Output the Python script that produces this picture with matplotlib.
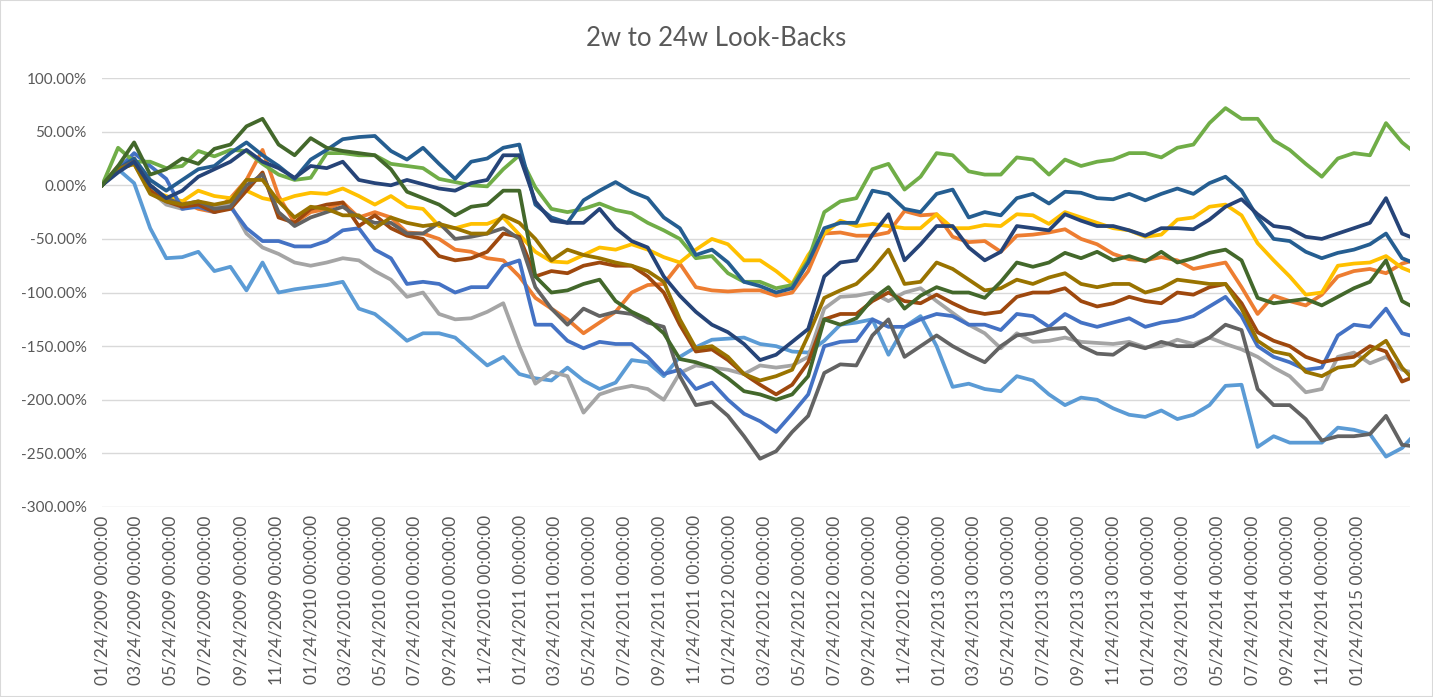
import pandas as pd
import matplotlib
matplotlib.use("Agg")
import matplotlib.pyplot as plt
import matplotlib.dates as mdates
from matplotlib.patches import Rectangle
from matplotlib.ticker import FuncFormatter, MultipleLocator, FixedLocator

plt.rcParams['font.family'] = ['Lato', 'DejaVu Sans']

# sampled every 4 weeks, plus the last weekly point
dates = list(pd.date_range("2009-01-24", periods=82, freq="28D")) + [pd.Timestamp("2015-04-25")]
tick_dates = pd.date_range("2009-01-24", "2015-01-24", freq=pd.DateOffset(months=2))

lb_2w = [0, 15, 2, -40, -68, -67, -62, -80, -76, -98,
         -72, -100, -97, -95, -93, -90, -115, -120, -132, -145,
         -138, -138, -142, -155, -168, -160, -176, -180, -182, -170,
         -182, -190, -184, -163, -165, -178, -160, -151, -144, -143,
         -142, -148, -150, -155, -156, -145, -130, -128, -125, -158,
         -132, -122, -150, -188, -185, -190, -192, -178, -182, -195,
         -205, -198, -200, -208, -214, -216, -210, -218, -214, -205,
         -187, -186, -244, -234, -240, -240, -240, -226, -228, -232,
         -253, -245, -237]
lb_4w = [0, 18, 25, -5, -12, -15, -22, -25, -12, 5,
         33, -10, -35, -25, -22, -16, -30, -25, -30, -44,
         -45, -50, -60, -62, -68, -70, -85, -105, -115, -125,
         -138, -128, -118, -100, -93, -92, -73, -95, -98, -99,
         -98, -98, -103, -100, -80, -45, -44, -47, -47, -44,
         -24, -28, -27, -48, -53, -52, -62, -47, -46, -44,
         -41, -50, -55, -64, -69, -70, -67, -70, -78, -75,
         -72, -95, -120, -103, -108, -112, -102, -85, -80, -78,
         -82, -73, -71]
lb_6w = [0, 15, 20, -5, -18, -22, -18, -20, -18, -45,
         -58, -64, -72, -75, -72, -68, -70, -80, -88, -104,
         -100, -120, -125, -124, -118, -110, -150, -185, -174, -178,
         -212, -195, -190, -187, -190, -200, -175, -168, -170, -172,
         -176, -168, -170, -168, -160, -115, -104, -103, -100, -108,
         -100, -96, -108, -119, -130, -138, -152, -138, -146, -145,
         -142, -146, -147, -148, -146, -151, -150, -144, -148, -142,
         -148, -153, -160, -170, -178, -193, -190, -160, -156, -166,
         -160, -172, -174]
lb_8w = [0, 15, 20, -5, -10, -15, -5, -10, -12, -5,
         -12, -15, -10, -7, -8, -3, -10, -18, -10, -20,
         -22, -38, -40, -36, -36, -30, -46, -62, -71, -72,
         -65, -58, -60, -55, -60, -67, -72, -60, -50, -55,
         -70, -70, -80, -92, -65, -45, -33, -38, -36, -38,
         -40, -40, -27, -40, -40, -37, -38, -27, -28, -36,
         -25, -30, -35, -40, -42, -48, -46, -32, -30, -20,
         -18, -28, -54, -70, -85, -102, -100, -75, -73, -72,
         -66, -77, -80]
lb_10w = [0, 15, 30, 18, 6, -22, -20, -25, -20, -40,
          -52, -52, -57, -57, -52, -42, -40, -60, -68, -92,
          -90, -92, -100, -95, -95, -75, -70, -130, -130, -145,
          -152, -146, -148, -148, -160, -176, -172, -190, -184, -200,
          -213, -220, -230, -213, -195, -150, -146, -145, -125, -132,
          -132, -125, -120, -122, -130, -130, -135, -120, -122, -132,
          -120, -128, -132, -128, -124, -132, -128, -126, -122, -113,
          -104, -122, -150, -160, -165, -172, -170, -140, -130, -132,
          -115, -138, -140]
lb_12w = [0, 35, 22, 22, 16, 18, 32, 27, 33, 32,
          20, 10, 5, 7, 30, 30, 28, 28, 20, 18,
          16, 6, 3, 0, -1, 15, 28, -2, -22, -25,
          -22, -17, -23, -26, -35, -42, -50, -68, -66, -82,
          -90, -90, -96, -93, -70, -25, -15, -12, 15, 20,
          -4, 8, 30, 28, 13, 10, 10, 26, 24, 10,
          24, 18, 22, 24, 30, 30, 26, 35, 38, 58,
          72, 62, 62, 42, 33, 20, 8, 25, 30, 28,
          58, 40, 34]
lb_14w = [0, 15, 25, 5, -5, 5, 15, 18, 30, 40,
          28, 18, 6, 24, 33, 43, 45, 46, 32, 24,
          35, 20, 6, 22, 25, 35, 38, -18, -30, -35,
          -14, -5, 3, -6, -12, -30, -40, -65, -60, -72,
          -90, -94, -100, -96, -72, -40, -35, -35, -5, -8,
          -22, -25, -8, -4, -30, -25, -28, -12, -8, -17,
          -6, -7, -12, -13, -8, -14, -8, -3, -8, 2,
          8, -5, -30, -50, -52, -62, -68, -63, -60, -55,
          -45, -68, -71]
lb_16w = [0, 15, 22, -5, -15, -20, -18, -25, -22, -5,
          12, -30, -35, -22, -18, -16, -38, -28, -40, -47,
          -50, -66, -70, -68, -62, -45, -48, -85, -80, -82,
          -75, -72, -75, -75, -85, -100, -130, -155, -153, -163,
          -176, -186, -195, -186, -165, -125, -120, -120, -108, -100,
          -108, -110, -102, -110, -117, -120, -118, -104, -100, -100,
          -96, -108, -113, -110, -104, -108, -110, -100, -102, -95,
          -92, -110, -137, -145, -150, -160, -165, -162, -160, -150,
          -155, -183, -180]
lb_18w = [0, 15, 22, 0, -12, -18, -15, -22, -20, 0,
          10, -25, -38, -30, -25, -20, -30, -35, -35, -45,
          -45, -35, -50, -48, -45, -40, -50, -95, -115, -130,
          -115, -122, -118, -120, -128, -132, -178, -205, -202, -215,
          -234, -255, -248, -230, -215, -175, -167, -168, -140, -125,
          -160, -150, -140, -150, -158, -165, -150, -140, -138, -134,
          -133, -150, -157, -158, -148, -152, -146, -150, -150, -142,
          -130, -135, -190, -205, -205, -218, -238, -234, -234, -232,
          -215, -242, -243]
lb_20w = [0, 15, 20, -8, -15, -18, -15, -18, -15, 5,
          5, -15, -30, -20, -22, -28, -28, -40, -30, -35,
          -38, -36, -40, -45, -45, -28, -35, -50, -70, -60,
          -65, -68, -72, -75, -80, -90, -125, -152, -150, -160,
          -176, -182, -178, -172, -140, -105, -98, -92, -78, -60,
          -92, -90, -72, -78, -88, -98, -96, -88, -92, -86,
          -82, -92, -95, -92, -92, -100, -96, -88, -90, -92,
          -92, -115, -145, -155, -158, -174, -178, -170, -168, -155,
          -145, -170, -178]
lb_22w = [0, 12, 22, 0, -12, -5, 8, 15, 22, 33,
          22, 16, 7, 18, 16, 22, 5, 2, 0, 5,
          1, -3, -5, 2, 5, 28, 28, -15, -33, -35,
          -35, -22, -40, -52, -58, -85, -103, -118, -130, -137,
          -148, -163, -158, -146, -134, -85, -72, -70, -46, -27,
          -70, -55, -38, -38, -58, -70, -62, -38, -40, -42,
          -27, -33, -38, -38, -42, -47, -40, -40, -41, -32,
          -20, -13, -27, -38, -40, -48, -50, -45, -40, -35,
          -12, -45, -48]
lb_24w = [0, 18, 40, 10, 15, 25, 20, 34, 38, 55,
          62, 38, 28, 44, 35, 32, 30, 28, 15, -6,
          -12, -18, -28, -20, -18, -5, -5, -85, -100, -98,
          -92, -88, -108, -118, -125, -138, -162, -165, -170, -180,
          -192, -195, -200, -195, -178, -125, -130, -124, -106, -95,
          -115, -103, -95, -100, -100, -105, -90, -72, -76, -72,
          -63, -68, -62, -70, -66, -71, -62, -72, -68, -63,
          -60, -70, -105, -110, -108, -106, -112, -104, -96, -90,
          -70, -108, -112]

series = [lb_2w, lb_4w, lb_6w, lb_8w, lb_10w, lb_12w,
          lb_14w, lb_16w, lb_18w, lb_20w, lb_22w, lb_24w]
colors = ["#5B9BD5", "#ED7D31", "#A5A5A5", "#FFC000", "#4472C4", "#70AD47",
          "#255E91", "#9E480E", "#636363", "#997300", "#264478", "#43682B"]

fig = plt.figure(figsize=(14.33, 6.97), dpi=100)
ax = fig.add_axes([0.0712, 0.2726, 0.9128, 0.6154])

for vals, c in zip(series, colors):
    ax.plot(dates, vals, color=c, lw=2.7, solid_joinstyle="round")

ax.set_ylim(-300, 100)
ax.yaxis.set_major_locator(MultipleLocator(50))
ax.yaxis.set_major_formatter(FuncFormatter(lambda v, p: f"{v:.2f}%"))
ax.set_xlim(dates[0], dates[-1])
ax.xaxis.set_major_locator(FixedLocator(mdates.date2num(tick_dates)))
ax.xaxis.set_major_formatter(mdates.DateFormatter("%m/%d/%Y %H:%M:%S"))

ax.grid(axis="y", color="#D9D9D9", lw=1)
ax.set_axisbelow(True)
for s in ax.spines.values():
    s.set_visible(False)
ax.tick_params(axis="both", length=0, colors="#595959")
ax.tick_params(axis="y", pad=11, labelsize=11)
ax.tick_params(axis="x", pad=6, labelsize=12.5)
for lab in ax.get_xticklabels():
    lab.set_rotation(90)

fig.text(0.5, 1 - 38 / 697, "2w to 24w Look-Backs", ha="center", va="center",
         fontsize=18.5, color="#595959")
fig.patches.append(Rectangle((0, 0), 1, 1, transform=fig.transFigure, fill=False,
                             edgecolor="#D9D9D9", lw=1.5))

fig.savefig("out.png", dpi=100)
